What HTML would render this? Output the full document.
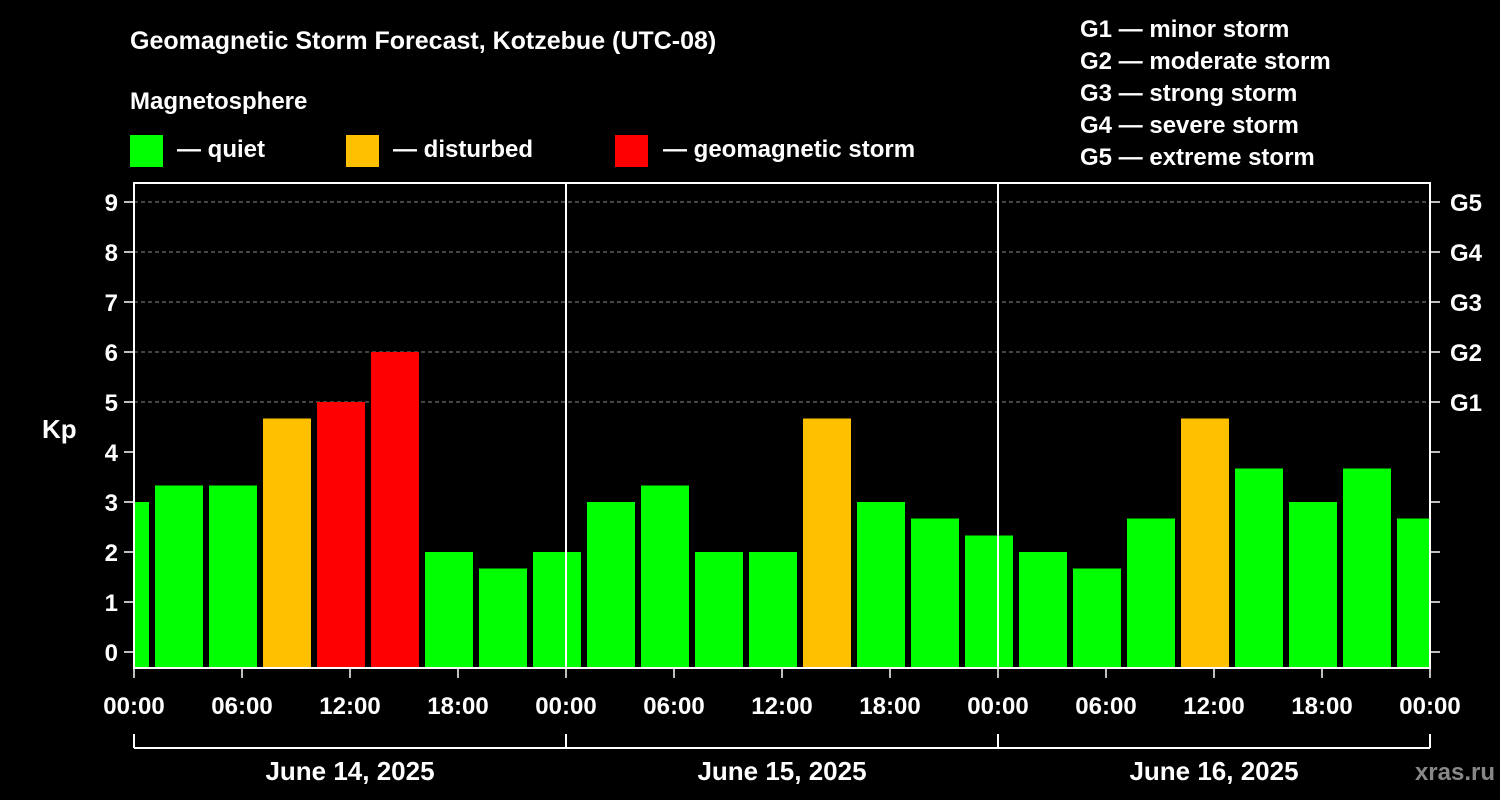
<!DOCTYPE html>
<html><head><meta charset="utf-8"><style>
html,body{margin:0;padding:0;background:#000;}
svg{display:block;font-family:"Liberation Sans",Arial,sans-serif;font-weight:bold;}
</style></head><body>
<svg id="c" width="1500" height="800" xmlns="http://www.w3.org/2000/svg">
<rect width="1500" height="800" fill="#000"/>
<text x="130" y="49" fill="#fff" font-size="25">Geomagnetic Storm Forecast, Kotzebue (UTC-08)</text>
<text x="130" y="109" fill="#fff" font-size="24">Magnetosphere</text>
<rect x="130" y="135" width="33" height="32" fill="#00ff00"/>
<text x="177" y="157" fill="#fff" font-size="24">— quiet</text>
<rect x="346" y="135" width="33" height="32" fill="#ffc000"/>
<text x="393" y="157" fill="#fff" font-size="24">— disturbed</text>
<rect x="615" y="135" width="33" height="32" fill="#ff0000"/>
<text x="663" y="157" fill="#fff" font-size="24">— geomagnetic storm</text>
<g fill="#fff" font-size="24">
<text x="1080" y="37">G1 — minor storm</text>
<text x="1080" y="69">G2 — moderate storm</text>
<text x="1080" y="101">G3 — strong storm</text>
<text x="1080" y="133">G4 — severe storm</text>
<text x="1080" y="165">G5 — extreme storm</text>
</g>
<text x="42" y="438" fill="#fff" font-size="26">Kp</text>
<g id="plot"></g>
<text x="1495" y="780" fill="#888" font-size="24" text-anchor="end">xras.ru</text>
</svg>
<script>
const kpValues=[3.0,3.33,3.33,4.67,5,6,2,1.67,2,3,3.33,2,2,4.67,3,2.67,2.33,2,1.67,2.67,4.67,3.67,3,3.67,2.67];
const yTicks=[0,1,2,3,4,5,6,7,8,9];
const gLabels=["G1","G2","G3","G4","G5"];
const xTickLabels=["00:00","06:00","12:00","18:00","00:00","06:00","12:00","18:00","00:00","06:00","12:00","18:00","00:00"];
const dayLabels=["June 14, 2025","June 15, 2025","June 16, 2025"];
const NS="http://www.w3.org/2000/svg";
const L=134,R=1430,T=183,B=668;
const y=v=>652-v*50;
const x=h=>L+h*18;
const g=document.getElementById('plot');
function mk(tag,a){const e=document.createElementNS(NS,tag);for(const k in a)e.setAttribute(k,a[k]);g.appendChild(e);return e;}
const cp=document.createElementNS(NS,'clipPath');cp.setAttribute('id','clip');
const cr=document.createElementNS(NS,'rect');cr.setAttribute('x',L);cr.setAttribute('y',T);cr.setAttribute('width',R-L);cr.setAttribute('height',B-T);cp.appendChild(cr);g.appendChild(cp);
yTicks.forEach(v=>{
 if(v>=5){const l=mk('line',{x1:L,x2:R,y1:y(v),y2:y(v),stroke:'#888','stroke-dasharray':'4,3','stroke-width':1});
 
 }
 const t=mk('line',{x1:L-10,x2:L,y1:y(v),y2:y(v),stroke:'#fff','stroke-width':1.5});
 
 
 const rt=mk('line',{x1:R,x2:R+10,y1:y(v),y2:y(v),stroke:'#fff','stroke-width':1.5});
 
 
 const tx=mk('text',{x:L-16,y:y(v)+9,fill:'#fff','font-size':24,'text-anchor':'end'});tx.textContent=v;
 
 
});
gLabels.forEach((s,i)=>{const tx=mk('text',{x:R+20,y:y(5+i)+9,fill:'#fff','font-size':24});tx.textContent=s;
 
 });
const bg=mk('g',{'clip-path':'url(#clip)'});
kpValues.forEach((v,i)=>{const k=i-1;
 const c=v>=5?'#ff0000':(v>=4?'#ffc000':'#00ff00');
 const r=document.createElementNS(NS,'rect');
 r.setAttribute('x',x(3*k+1)+3);r.setAttribute('width',48);r.setAttribute('y',y(v));r.setAttribute('height',B-y(v));r.setAttribute('fill',c);
 
 
 bg.appendChild(r);});
[24,48].forEach(h=>{const l=mk('line',{x1:x(h),x2:x(h),y1:T,y2:B,stroke:'#fff','stroke-width':2});
 
 });
const fr=mk('rect',{x:L,y:T,width:R-L,height:B-T,fill:'none',stroke:'#fff','stroke-width':2});


xTickLabels.forEach((s,i)=>{const xx=x(i*6);
 const t=mk('line',{x1:xx,x2:xx,y1:B,y2:B+10,stroke:'#fff','stroke-width':1.5});
 
 
 const tx=mk('text',{x:xx,y:714,fill:'#fff','font-size':24,'text-anchor':'middle'});tx.textContent=s;
 
 });
const bl=mk('line',{x1:L,x2:R,y1:748,y2:748,stroke:'#fff','stroke-width':2});


[0,24,48,72].forEach(h=>{const l=mk('line',{x1:x(h),x2:x(h),y1:734,y2:748,stroke:'#fff','stroke-width':2});
 
 });
dayLabels.forEach((s,i)=>{const tx=mk('text',{x:x(i*24+12),y:780,fill:'#fff','font-size':26,'text-anchor':'middle'});tx.textContent=s;
 
 });
</script>
</body></html>
